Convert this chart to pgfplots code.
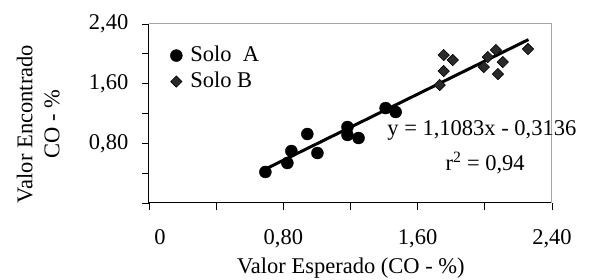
\documentclass[border=0pt]{standalone}
\usepackage{pgfplots}
\pgfplotsset{compat=1.18}
\usepackage{fontspec}
\setmainfont{Liberation Serif}
\definecolor{dgray}{HTML}{2A2A2A}
\begin{document}
\fontsize{22.5}{27}\selectfont
\begin{tikzpicture}
\useasboundingbox (-149pt,-77pt) rectangle (440pt,203pt);
\begin{axis}[
  at={(0,0)}, anchor=south west,
  scale only axis, width=403pt, height=179pt,
  xmin=0, xmax=2.4, ymin=0, ymax=2.4,
  axis x line=bottom, axis y line=left,
  axis line style={-, black, line width=1pt},
  xtick={0,0.4,0.8,1.2,1.6,2.0,2.4},
  xticklabels={{\hspace*{22pt}0},,{0,80},,{1,60},,{2,40}},
  ytick={0,0.4,0.8,1.2,1.6,2.0,2.4},
  yticklabels={,,{0,80},,{1,60},,{2,40}},
  tick align=outside, major tick length=7pt,
  tick style={black, line width=0.8pt},
  xticklabel style={yshift=-12pt},
  yticklabel style={xshift=-6pt},
  xlabel={Valor Esperado (CO - \%)},
  xlabel style={at={(axis description cs:0.501,-0.363)}, anchor=center},
  ylabel={Valor Encontrado\\CO - \%},
  ylabel style={at={(axis description cs:-0.275,0.441)}, anchor=center, align=center},
  legend style={draw=none, fill=none, at={(axis description cs:0.045,0.90)}, anchor=north west, legend cell align=left, row sep=3pt},
  clip=false,
]
\addplot[only marks, mark=*, mark size=6pt, black] coordinates {
(0.693,0.416) (0.824,0.536) (0.848,0.697) (0.943,0.925) (1.003,0.670)
(1.182,1.019) (1.182,0.912) (1.248,0.871) (1.409,1.273) (1.469,1.220)
};
\addlegendentry{\hspace*{6pt}Solo~ A}
\addplot[only marks, mark=square*, mark size=4pt, mark options={rotate=45, fill=dgray, draw=black, line width=0.6pt}] coordinates {
(1.755,1.984) (1.809,1.917) (1.755,1.769) (1.731,1.582) (2.018,1.957)
(1.994,1.823) (2.066,2.051) (2.107,1.890) (2.078,1.729) (2.257,2.064)
};
\addlegendentry{\hspace*{6pt}Solo B}
\addplot[black, line width=3pt, forget plot] coordinates {(0.69,0.451) (2.26,2.191)};
\draw[gray!70, line width=1pt] (rel axis cs:0,1) -- (rel axis cs:1,1) -- (rel axis cs:1,0);
\node at (axis description cs:0.826,0.408) {y = 1,1083x - 0,3136};
\node at (axis description cs:0.834,0.223) {r\textsuperscript{2} = 0,94};
\end{axis}
\end{tikzpicture}
\end{document}
